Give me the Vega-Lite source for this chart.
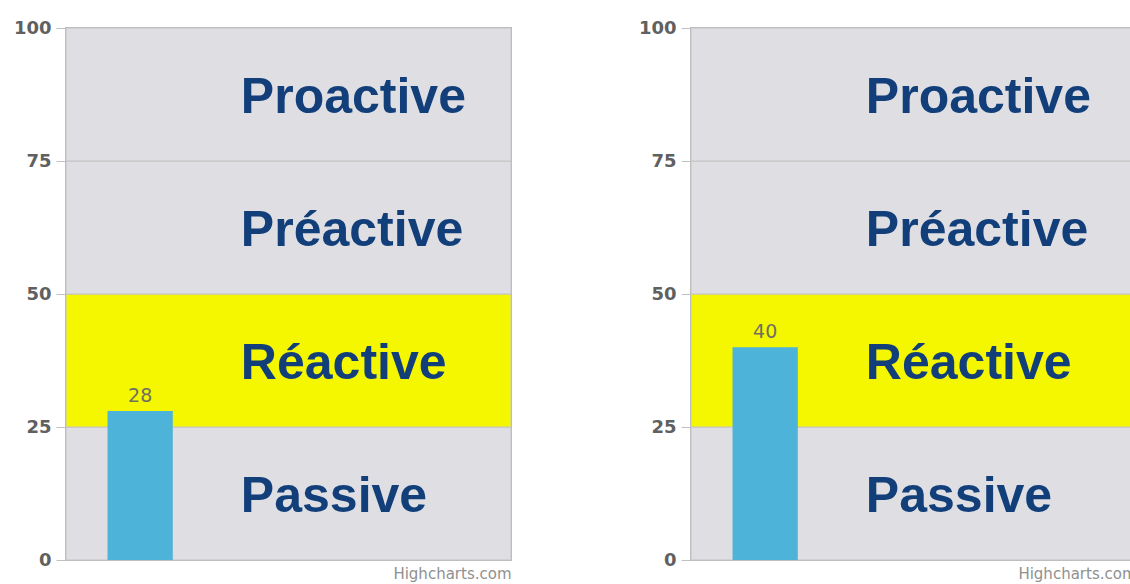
{
  "$schema": "https://vega.github.io/schema/vega-lite/v6.json",
  "padding": {"left": 12, "top": 18, "right": 0, "bottom": 0},
  "spacing": 124,
  "background": "white",
  "config": {
    "view": {"fill": "#dfdfe3", "stroke": "#b8b8b8", "strokeWidth": 2},
    "axisY": {
      "grid": false,
      "domain": false,
      "tickSize": 10,
      "tickColor": "#c0c0c0",
      "labelFont": "DejaVu Sans",
      "labelFontWeight": "bold",
      "labelFontSize": 18,
      "labelColor": "#606060",
      "labelPadding": 5,
      "title": null
    },
    "axisX": {
      "labels": false,
      "ticks": false,
      "domain": false,
      "grid": false,
      "titleAnchor": "end",
      "titleAlign": "right",
      "titleFont": "DejaVu Sans",
      "titleFontSize": 15,
      "titleFontWeight": "normal",
      "titleColor": "#909090",
      "titlePadding": 6
    }
  },
  "datasets": {
    "scores": [
      {"panel": "A", "cat": "Score", "value": 28},
      {"panel": "B", "cat": "Score", "value": 40}
    ],
    "zones": [
      {"zone": "Passive", "lo": 0, "hi": 25, "mid": 12.5},
      {"zone": "Réactive", "lo": 25, "hi": 50, "mid": 37.5},
      {"zone": "Préactive", "lo": 50, "hi": 75, "mid": 62.5},
      {"zone": "Proactive", "lo": 75, "hi": 100, "mid": 87.5}
    ]
  },
  "hconcat": [
    {
      "width": 445,
      "height": 532,
      "layer": [
        {
          "data": {"name": "zones"},
          "mark": {"type": "rect", "stroke": "#c4c4c4", "strokeWidth": 1},
          "encoding": {
            "y": {"field": "lo", "type": "quantitative", "scale": {"domain": [0, 100], "nice": false}, "axis": {"values": [0, 25, 50, 75, 100], "title": null}},
            "y2": {"field": "hi"},
            "fill": {"field": "zone", "type": "nominal", "scale": {"domain": ["Passive", "Réactive", "Préactive", "Proactive"], "range": ["#dfdfe3", "#f5f700", "#dfdfe3", "#dfdfe3"]}, "legend": null}
          }
        },
        {
          "data": {"name": "zones"},
          "mark": {"type": "text", "align": "left", "baseline": "middle", "font": "Liberation Sans", "fontWeight": "bold", "fontSize": 50, "fill": "#123f7a", "dx": -15, "dy": 3},
          "encoding": {
            "x": {"datum": "Level", "type": "nominal", "bandPosition": 0},
            "y": {"field": "mid", "type": "quantitative"},
            "text": {"field": "zone"}
          }
        },
        {
          "data": {"name": "scores"},
          "transform": [{"filter": "datum.panel === 'A'"}],
          "mark": {"type": "bar", "fill": "#4db3d9"},
          "encoding": {
            "x": {"field": "cat", "type": "nominal", "scale": {"domain": ["Score", "Level", "Pad"], "paddingInner": 0.56, "paddingOuter": 0.28}, "axis": {"title": "Highcharts.com"}},
            "y": {"field": "value", "type": "quantitative"}
          }
        },
        {
          "data": {"name": "scores"},
          "transform": [{"filter": "datum.panel === 'A'"}],
          "mark": {"type": "text", "baseline": "alphabetic", "dy": -9, "font": "DejaVu Sans", "fontSize": 19, "fill": "#707060"},
          "encoding": {
            "x": {"field": "cat", "type": "nominal"},
            "y": {"field": "value", "type": "quantitative"},
            "text": {"field": "value"}
          }
        }
      ]
    },
    {
      "width": 445,
      "height": 532,
      "layer": [
        {
          "data": {"name": "zones"},
          "mark": {"type": "rect", "stroke": "#c4c4c4", "strokeWidth": 1},
          "encoding": {
            "y": {"field": "lo", "type": "quantitative", "scale": {"domain": [0, 100], "nice": false}, "axis": {"values": [0, 25, 50, 75, 100], "title": null}},
            "y2": {"field": "hi"},
            "fill": {"field": "zone", "type": "nominal", "scale": {"domain": ["Passive", "Réactive", "Préactive", "Proactive"], "range": ["#dfdfe3", "#f5f700", "#dfdfe3", "#dfdfe3"]}, "legend": null}
          }
        },
        {
          "data": {"name": "zones"},
          "mark": {"type": "text", "align": "left", "baseline": "middle", "font": "Liberation Sans", "fontWeight": "bold", "fontSize": 50, "fill": "#123f7a", "dx": -15, "dy": 3},
          "encoding": {
            "x": {"datum": "Level", "type": "nominal", "bandPosition": 0},
            "y": {"field": "mid", "type": "quantitative"},
            "text": {"field": "zone"}
          }
        },
        {
          "data": {"name": "scores"},
          "transform": [{"filter": "datum.panel === 'B'"}],
          "mark": {"type": "bar", "fill": "#4db3d9"},
          "encoding": {
            "x": {"field": "cat", "type": "nominal", "scale": {"domain": ["Score", "Level", "Pad"], "paddingInner": 0.56, "paddingOuter": 0.28}, "axis": {"title": "Highcharts.com"}},
            "y": {"field": "value", "type": "quantitative"}
          }
        },
        {
          "data": {"name": "scores"},
          "transform": [{"filter": "datum.panel === 'B'"}],
          "mark": {"type": "text", "baseline": "alphabetic", "dy": -9, "font": "DejaVu Sans", "fontSize": 19, "fill": "#707060"},
          "encoding": {
            "x": {"field": "cat", "type": "nominal"},
            "y": {"field": "value", "type": "quantitative"},
            "text": {"field": "value"}
          }
        }
      ]
    }
  ]
}
